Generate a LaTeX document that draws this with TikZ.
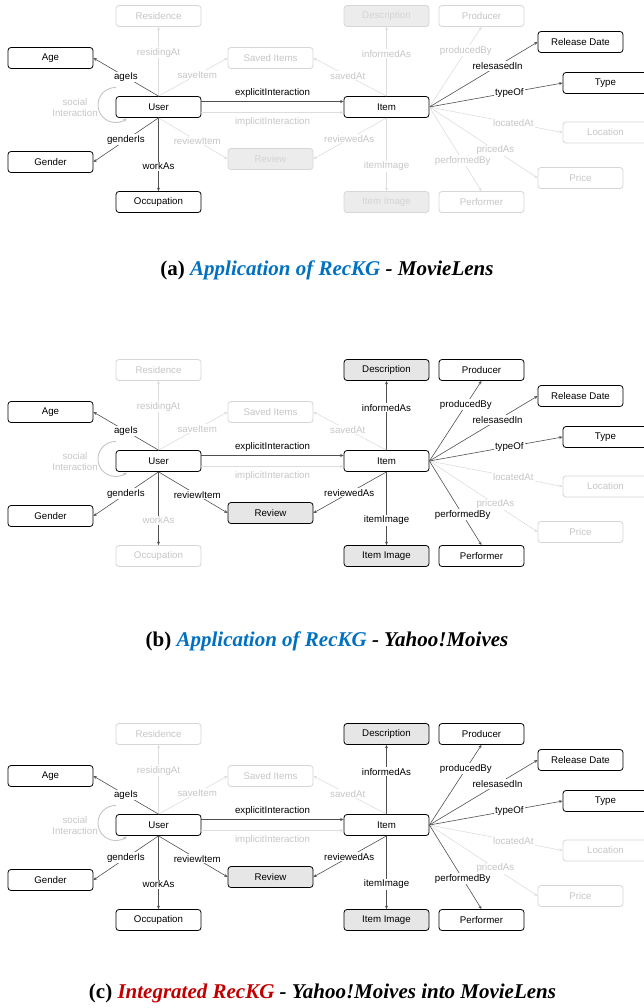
\documentclass[tikz,border=0pt]{standalone}
\usepackage{fontspec}
\setmainfont{Liberation Sans}
\newfontfamily\capfont{Liberation Serif}
\usetikzlibrary{arrows.meta,backgrounds}
\definecolor{ecol}{HTML}{505050}
\definecolor{fedge}{HTML}{DDDDDD}
\definecolor{ftext}{HTML}{C6C6C6}
\definecolor{fborder}{HTML}{D6D6D6}
\definecolor{onfill}{HTML}{E6E6E6}
\definecolor{offfill}{HTML}{ECECEC}
\definecolor{offftext}{HTML}{D4D4D4}
\definecolor{loopcol}{HTML}{C4C4C4}
\definecolor{capblue}{HTML}{0070C0}
\definecolor{capred}{HTML}{C00000}
\tikzset{
 box/.style={rectangle, rounded corners=3pt, minimum width=85pt, minimum height=21pt, inner sep=0pt, line width=0.8pt, font=\fontsize{9.7}{11}\selectfont},
 nOn/.style={draw=black, fill=white, text=black},
 nOnF/.style={draw=black, fill=onfill, text=black},
 nOff/.style={draw=fborder, fill=white, text=ftext},
 nOffF/.style={draw=fborder, fill=offfill, text=offftext},
 eOn/.style={draw=ecol, text=black},
 eOff/.style={draw=fedge, text=ftext},
 eMix/.style={draw=ecol, text=ftext},
 conn/.style={line width=0.6pt, -{Stealth[length=3.5pt,width=3pt]}},
 loopstyle/.style={draw=loopcol, line width=0.9pt, -{Stealth[length=4pt,width=3.5pt]}},
 lbl/.style={fill=white, inner sep=1pt, font=\fontsize{9.7}{11}\selectfont},
 captext/.style={font=\capfont\fontsize{21}{24}\selectfont\bfseries, inner sep=0pt, anchor=base},
}
\newcommand\recpanel[2]{%
\begin{scope}[yshift=-#2pt]
 \node[box,kRes] (#1res) at (158.5,16) {Residence};
 \node[box,kAge] (#1age) at (50.5,58) {Age};
 \node[box,kSav] (#1sav) at (270.5,58) {Saved Items};
 \node[box,kUser] (#1u) at (158.5,107) {User};
 \node[box,kGen] (#1gen) at (50.5,162) {Gender};
 \node[box,kRev] (#1rev) at (270.5,159) {Review};
 \node[box,kOcc] (#1occ) at (158.5,202) {Occupation};
 \node[box,kDesc] (#1desc) at (386.5,16) {Description};
 \node[box,kProd] (#1prod) at (481.5,16) {Producer};
 \node[box,kRel] (#1rel) at (580.5,42) {Release Date};
 \node[box,kType] (#1type) at (605.5,83) {Type};
 \node[box,kItem] (#1i) at (386.5,107) {Item};
 \node[box,kLoc] (#1loc) at (605.5,132.5) {Location};
 \node[box,kPrice] (#1price) at (580.5,178) {Price};
 \node[box,kImg] (#1img) at (386.5,202) {Item Image};
 \node[box,kPerf] (#1perf) at (481.5,202) {Performer};
 \draw[conn,eRes] (#1u.north) -- node[lbl,pos=0.63]{residingAt} (#1res.south);
 \draw[conn,eAge] (#1u.north) -- node[lbl,pos=0.5]{ageIs} (#1age.east);
 \draw[conn,eSav] (#1u.north) -- node[lbl,pos=0.56]{saveItem} (#1sav.west);
 \draw[conn,eGen] (#1u.south) -- node[lbl,pos=0.5]{genderIs} (#1gen.east);
 \draw[conn,eOcc] (#1u.south) -- node[lbl,pos=0.66]{workAs} (#1occ.north);
 \draw[conn,eRevU] (#1u.south) -- node[lbl,pos=0.56]{reviewItem} (#1rev.west);
 \draw[conn,eImp] ([yshift=-5.5pt]#1u.east) -- node[lbl,fill=none,below=4pt]{implicitInteraction} ([yshift=-5.5pt]#1i.west);
 \draw[conn,eExp] ([yshift=5.5pt]#1u.east) -- node[lbl,fill=none,above=2.5pt]{explicitInteraction} ([yshift=5.5pt]#1i.west);
 \draw[conn,eDesc] (#1i.north) -- node[lbl,pos=0.61]{informedAs} (#1desc.south);
 \draw[conn,eSavI] (#1i.north) -- node[lbl,pos=0.53]{savedAt} (#1sav.east);
 \draw[conn,eRevI] (#1i.south) -- node[lbl,pos=0.51]{reviewedAs} (#1rev.east);
 \draw[conn,eImg] (#1i.south) -- node[lbl,pos=0.66]{itemImage} (#1img.north);
 \draw[conn,eLoc] (#1i.east) -- node[lbl,pos=0.63]{locatedAt} (#1loc.west);
 \draw[conn,ePrice] (#1i.east) -- node[lbl,pos=0.61]{pricedAs} (#1price.west);
 \draw[conn,eProd] (#1i.east) -- node[lbl,pos=0.7]{producedBy} (#1prod.south);
 \draw[conn,ePerf] (#1i.east) -- node[lbl,pos=0.64]{performedBy} (#1perf.north);
 \draw[conn,eRel] (#1i.east) -- node[lbl,pos=0.63]{relesasedIn} (#1rel.west);
 \draw[conn,eType] (#1i.east) -- node[lbl,pos=0.6]{typeOf} (#1type.west);
 \begin{scope}[on background layer]
  \draw[loopstyle] ([xshift=-42.4pt,yshift=19.5pt]#1u.center) arc[start angle=88,end angle=310,radius=17.5pt];
 \end{scope}
 \node[text=ftext, align=center, inner sep=0pt, font=\fontsize{9.7}{10.5}\selectfont] (#1soc) at (75,107.5) {social\\Interaction};
\end{scope}}
\begin{document}
\begin{tikzpicture}[x=1pt,y=-1pt]
\useasboundingbox (0,0) rectangle (644,1008);
% panel (a)
\tikzset{
 kRes/.style=nOff, kAge/.style=nOn, kSav/.style=nOff, kUser/.style=nOn, kGen/.style=nOn, kRev/.style=nOffF, kOcc/.style=nOn,
 kDesc/.style=nOffF, kProd/.style=nOff, kRel/.style=nOn, kType/.style=nOn, kItem/.style=nOn, kLoc/.style=nOff, kPrice/.style=nOff,
 kImg/.style=nOffF, kPerf/.style=nOff,
 eRes/.style=eOff, eAge/.style=eOn, eSav/.style=eOff, eGen/.style=eOn, eOcc/.style=eOn, eRevU/.style=eOff, eExp/.style=eOn,
 eImp/.style=eOff, eDesc/.style=eOff, eSavI/.style=eOff, eRevI/.style=eOff, eImg/.style=eOff, eProd/.style=eOff,
 eRel/.style=eOn, eType/.style=eOn, eLoc/.style=eOff, ePrice/.style=eOff, ePerf/.style=eOff}
\recpanel{a}{0}
% panel (b)
\tikzset{
 kRes/.style=nOff, kAge/.style=nOn, kSav/.style=nOff, kUser/.style=nOn, kGen/.style=nOn, kRev/.style=nOnF, kOcc/.style=nOff,
 kDesc/.style=nOnF, kProd/.style=nOn, kRel/.style=nOn, kType/.style=nOn, kItem/.style=nOn, kLoc/.style=nOff, kPrice/.style=nOff,
 kImg/.style=nOnF, kPerf/.style=nOn,
 eRes/.style=eOff, eAge/.style=eOn, eSav/.style=eOff, eGen/.style=eOn, eOcc/.style=eMix, eRevU/.style=eOn, eExp/.style=eOn,
 eImp/.style=eOff, eDesc/.style=eOn, eSavI/.style=eOff, eRevI/.style=eOn, eImg/.style=eOn, eProd/.style=eOn,
 eRel/.style=eOn, eType/.style=eOn, eLoc/.style=eOff, ePrice/.style=eOff, ePerf/.style=eOn}
\recpanel{b}{354}
% panel (c)
\tikzset{kOcc/.style=nOn, eOcc/.style=eOn}
\recpanel{c}{718}
\node[captext] (capa) at (327,275) {(a) {\itshape\color{capblue}Application of RecKG} {\itshape - MovieLens}};
\node[captext] (capb) at (327,646) {(b) {\itshape\color{capblue}Application of RecKG} {\itshape - Yahoo!Moives}};
\node[captext] (capc) at (322.5,998) {(c) {\itshape\color{capred}Integrated RecKG} {\itshape - Yahoo!Moives into MovieLens}};
\end{tikzpicture}
\end{document}
